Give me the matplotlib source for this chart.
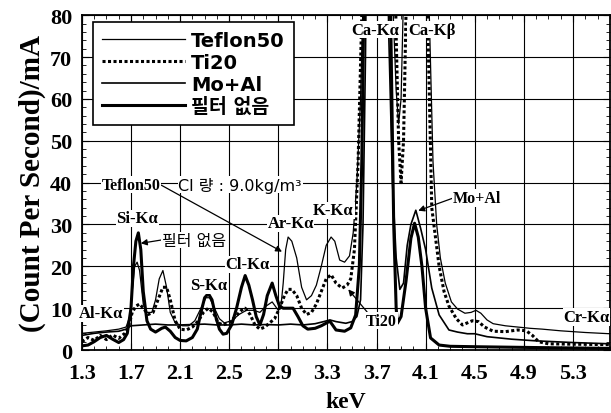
import matplotlib
matplotlib.use("Agg")
import matplotlib.pyplot as plt
from matplotlib.ticker import MultipleLocator
from matplotlib.font_manager import FontProperties

# (keV, count); values above 80 are off-scale peaks
teflon50 = [(1.30, 4.0), (1.40, 4.3), (1.50, 4.6), (1.60, 5.0), (1.66, 5.5), (1.69, 8), (1.71, 14),
            (1.73, 20), (1.75, 21), (1.77, 19), (1.80, 11), (1.83, 9), (1.87, 9), (1.90, 12), (1.93, 17),
            (1.96, 19), (1.99, 15), (2.02, 9), (2.06, 6.5), (2.12, 5.8), (2.17, 5.8), (2.22, 7), (2.27, 10),
            (2.31, 12.5), (2.34, 12.5), (2.38, 10), (2.42, 7.5), (2.46, 6.5), (2.52, 7), (2.58, 8.5),
            (2.64, 9.5), (2.70, 9.5), (2.75, 9), (2.80, 10.5), (2.85, 11.5), (2.90, 9.5), (2.92, 10),
            (2.94, 16), (2.96, 24), (2.98, 27), (3.01, 26), (3.05, 22), (3.09, 15), (3.13, 12), (3.17, 13),
            (3.21, 15.5), (3.25, 20), (3.29, 25), (3.33, 27), (3.36, 26), (3.40, 21.5), (3.44, 21),
            (3.48, 22.5), (3.51, 28), (3.54, 40), (3.57, 60), (3.60, 95), (3.63, 130), (3.80, 130),
            (3.83, 85), (3.86, 62), (3.88, 54), (3.90, 60), (3.92, 85), (3.94, 130), (4.10, 130),
            (4.13, 80), (4.16, 45), (4.19, 30), (4.22, 22), (4.26, 16), (4.31, 11.5), (4.36, 9.8),
            (4.42, 8.8), (4.47, 9), (4.51, 9.5), (4.55, 8.8), (4.60, 7.2), (4.65, 6.3), (4.75, 5.8),
            (4.85, 5.5), (4.95, 5.2), (5.05, 5.0), (5.20, 4.6), (5.40, 4.2), (5.60, 3.9)]

ti20 = [(1.30, 2.0), (1.35, 3.0), (1.40, 2.3), (1.45, 3.5), (1.50, 2.5), (1.55, 3.6), (1.60, 2.8),
        (1.65, 4.0), (1.68, 5.5), (1.71, 9), (1.74, 10.5), (1.77, 11), (1.80, 10), (1.84, 8.5), (1.88, 9),
        (1.92, 12), (1.96, 15), (1.99, 15), (2.02, 12), (2.06, 7), (2.10, 5), (2.15, 4.8), (2.20, 5.5),
        (2.25, 7), (2.29, 9), (2.33, 10), (2.37, 9), (2.41, 6.5), (2.45, 6), (2.50, 6.5), (2.55, 8),
        (2.60, 9.5), (2.63, 10), (2.67, 8.5), (2.71, 6), (2.75, 5), (2.79, 5.5), (2.83, 6.5), (2.87, 7.5),
        (2.91, 10), (2.95, 13), (2.98, 14.5), (3.01, 14.5), (3.05, 13), (3.09, 10), (3.13, 8.5), (3.17, 9),
        (3.21, 11), (3.25, 14), (3.29, 17), (3.33, 18), (3.37, 16), (3.42, 14.8), (3.46, 15.5), (3.49, 17),
        (3.52, 24), (3.55, 45), (3.58, 80), (3.61, 130), (3.83, 130), (3.86, 75), (3.88, 50), (3.90, 40),
        (3.92, 50), (3.94, 80), (3.96, 130), (4.09, 130), (4.12, 75), (4.15, 34), (4.21, 20), (4.25, 14),
        (4.29, 10.5), (4.35, 7.5), (4.40, 6), (4.44, 6.5), (4.48, 7), (4.53, 6.8), (4.58, 5.5), (4.65, 4.5),
        (4.75, 4.4), (4.85, 4.8), (4.92, 4.6), (4.97, 3.5), (5.02, 2.0), (5.10, 1.5), (5.30, 1.4), (5.60, 1.3)]

moal = [(1.30, 3.5), (1.40, 4.0), (1.50, 4.3), (1.60, 4.5), (1.66, 5.0), (1.70, 5.8), (1.80, 6.0),
        (1.90, 6.2), (2.00, 6.0), (2.10, 6.0), (2.20, 6.1), (2.30, 6.2), (2.40, 6.0), (2.50, 6.0),
        (2.60, 6.2), (2.70, 6.0), (2.80, 6.1), (2.90, 6.0), (3.00, 6.2), (3.10, 6.0), (3.20, 6.3),
        (3.27, 6.8), (3.32, 7.2), (3.37, 6.8), (3.45, 6.4), (3.50, 6.8), (3.54, 8), (3.57, 12), (3.59, 30),
        (3.61, 70), (3.63, 130), (3.77, 130), (3.80, 75), (3.83, 40), (3.86, 22), (3.89, 14.5), (3.92, 16),
        (3.95, 25), (3.98, 30), (4.02, 33.4), (4.06, 29), (4.10, 24), (4.15, 14.8), (4.21, 8.4), (4.29, 4.8),
        (4.36, 4.3), (4.44, 3.9), (4.50, 3.9), (4.60, 3.2), (4.80, 2.6), (5.00, 2.2), (5.30, 1.8), (5.60, 1.5)]

nofilter = [(1.30, 1.0), (1.35, 1.2), (1.40, 2.0), (1.45, 3.0), (1.50, 3.5), (1.55, 2.6), (1.60, 1.8),
            (1.64, 2.5), (1.67, 4), (1.70, 10), (1.72, 20), (1.74, 26), (1.76, 28), (1.78, 24), (1.80, 14),
            (1.83, 7), (1.86, 5), (1.90, 4.3), (1.95, 5.2), (1.98, 5.5), (2.02, 4.5), (2.06, 3), (2.10, 2.3),
            (2.15, 2.2), (2.20, 3), (2.24, 5), (2.27, 9), (2.30, 12.5), (2.33, 13.5), (2.36, 12), (2.39, 8),
            (2.42, 5), (2.45, 3.8), (2.48, 4), (2.52, 6), (2.56, 10), (2.60, 15), (2.63, 17.8), (2.66, 15.5),
            (2.69, 12), (2.72, 8), (2.75, 6), (2.78, 8.5), (2.81, 13), (2.85, 16), (2.88, 13), (2.91, 10.5),
            (2.94, 10), (2.98, 10), (3.02, 10), (3.06, 8), (3.10, 5.8), (3.14, 5), (3.20, 5.2), (3.25, 5.8),
            (3.32, 6.9), (3.37, 4.8), (3.44, 4.5), (3.49, 5.3), (3.53, 8.4), (3.56, 20), (3.58, 45),
            (3.60, 90), (3.62, 130), (3.79, 130), (3.82, 70), (3.84, 30), (3.86, 10), (3.87, 6.4), (3.90, 8),
            (3.94, 16.4), (3.98, 26.7), (4.01, 30.3), (4.04, 27), (4.07, 20), (4.10, 10), (4.14, 2.9),
            (4.21, 1.2), (4.30, 0.9), (4.50, 0.8), (5.00, 0.6), (5.60, 0.4)]

series_names = ["Teflon50", "Ti20", "Mo+Al", "필터 없음"]
xticks = [1.3, 1.7, 2.1, 2.5, 2.9, 3.3, 3.7, 4.1, 4.5, 4.9, 5.3]
yticks = [0, 10, 20, 30, 40, 50, 60, 70, 80]

# peak labels: text, x, y
peak_labels = [("Ca-Kα", 3.69, 76.5), ("Ca-Kβ", 4.15, 76.5), ("Si-Kα", 1.75, 31.5),
               ("Ar-Kα", 3.00, 30.3), ("K-Kα", 3.35, 33.4), ("Cl-Kα", 2.65, 20.5),
               ("S-Kα", 2.33, 15.5), ("Al-Kα", 1.46, 8.8), ("Cr-Kα", 5.41, 7.9)]

serif = "Liberation Serif"
sans = ["DejaVu Sans", "Noto Sans CJK KR"]

fig = plt.figure(figsize=(6.11, 4.14), dpi=100)
ax = fig.add_axes([0.134, 0.152, 0.864, 0.809])

styles = [dict(color="k", lw=0.9),
          dict(color="k", lw=2.2, linestyle=(0, (1, 0.8))),
          dict(color="k", lw=1.2),
          dict(color="k", lw=2.2)]
for data, name, st in zip([teflon50, ti20, moal, nofilter], series_names, styles):
    xs, ys = zip(*data)
    ax.plot(xs, ys, label=name, **st)

ax.set_xlim(1.3, 5.6)
ax.set_ylim(0, 80)
ax.set_xticks(xticks)
ax.set_xticklabels(["%.1f" % v for v in xticks])
ax.set_yticks(yticks)
ax.xaxis.set_minor_locator(MultipleLocator(0.1))
ax.yaxis.set_minor_locator(MultipleLocator(2))
ax.grid(True, which="major", color="k", lw=0.8)
ax.tick_params(which="both", direction="in", top=True, right=True)
ax.tick_params(which="major", length=5, labelsize=16)
ax.tick_params(axis="x", which="major", pad=9)
ax.tick_params(axis="y", which="major", pad=7)
ax.tick_params(which="minor", length=3)
for lab in ax.get_xticklabels() + ax.get_yticklabels():
    lab.set_fontfamily(serif)
    lab.set_fontweight("bold")
for sp in ax.spines.values():
    sp.set_linewidth(1.3)

ax.set_xlabel("keV", fontfamily=serif, fontweight="bold", fontsize=17, labelpad=6)
ax.set_ylabel("(Count Per Second)/mA", fontfamily=serif, fontweight="bold", fontsize=21, labelpad=3)

box = dict(facecolor="white", edgecolor="none", pad=0.5)
for txt, x, y in peak_labels:
    ax.text(x, y, txt, ha="center", va="center", fontfamily=serif, fontweight="bold",
            fontsize=12, bbox=box, zorder=5)

arrow = dict(arrowstyle="-|>", color="k", lw=0.9, mutation_scale=9, shrinkA=0, shrinkB=0)
ax.annotate("Teflon50", xy=(2.93, 23.5), xytext=(1.70, 39.5), ha="center", va="center",
            fontfamily=serif, fontweight="bold", fontsize=11.5, bbox=box, zorder=5,
            arrowprops=dict(arrow, relpos=(1, 0.5)))
ax.annotate("Ti20", xy=(3.47, 14.5), xytext=(3.74, 7.0), ha="center", va="center",
            fontfamily=serif, fontweight="bold", fontsize=11.5, bbox=box, zorder=5,
            arrowprops=dict(arrow, relpos=(0.1, 0.9)))
ax.annotate("Mo+Al", xy=(4.04, 33.3), xytext=(4.52, 36.3), ha="center", va="center",
            fontfamily=serif, fontweight="bold", fontsize=11.5, bbox=box, zorder=5,
            arrowprops=dict(arrow, relpos=(0, 0.5)))
ax.annotate("필터 없음", xy=(1.78, 25.5), xytext=(2.21, 26.3), ha="center", va="center",
            fontfamily=sans, fontsize=11.5, bbox=box, zorder=5,
            arrowprops=dict(arrow, relpos=(0, 0.5)))
ax.text(2.59, 39.5, "Cl 량 : 9.0kg/m³", ha="center", va="center", fontfamily=sans,
        fontsize=11.5, bbox=box, zorder=5)

leg = ax.legend(loc="upper left", bbox_to_anchor=(0.021, 0.979), handlelength=4.3,
                handletextpad=0.3, labelspacing=0.15, borderpad=0.45, borderaxespad=0,
                fancybox=False, framealpha=1, edgecolor="k",
                prop=FontProperties(family=sans, weight="bold", size=14))
leg.get_frame().set_linewidth(1.2)
leg.set_zorder(10)

fig.savefig("out.png", dpi=100)
